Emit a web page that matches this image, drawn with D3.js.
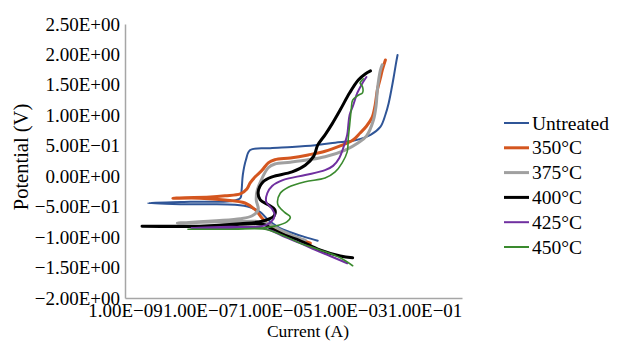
<!DOCTYPE html>
<html>
<head>
<meta charset="utf-8">
<script src="https://cdn.jsdelivr.net/npm/d3@7"></script>
<style>
  html, body { margin: 0; padding: 0; background: #fff; }
  svg text { font-family: "Liberation Serif", "Times New Roman", serif; fill: #000; }
</style>
</head>
<body>
<div id="chart"></div>
<script>
// tick values
const yTicks = [2.5, 2, 1.5, 1, 0.5, 0, -0.5, -1, -1.5, -2];
const xTicks = [1e-9, 1e-7, 1e-5, 1e-3, 1e-1];

// series: current (A) and potential (V), cathodic end -> Ecorr -> anodic end
const untreatedI = [1.4e-4, 6.5e-5, 2.6e-5, 1.2e-5, 6.7e-6, 4.1e-6, 2.2e-6, 8.7e-7, 1.9e-7, 3.0e-8, 4.1e-9, 5.5e-8, 6.4e-7, 1.2e-6, 1.3e-6, 1.4e-6, 1.7e-6, 2.2e-6, 7.5e-6, 2.9e-5, 1.2e-4, 4.1e-4, 1.4e-3, 3.6e-3, 6.6e-3, 9.0e-3, 1.1e-2, 1.3e-2, 1.5e-2, 1.7e-2, 1.9e-2];
const untreatedV = [-1.06, -1.00, -0.92, -0.83, -0.72, -0.59, -0.51, -0.47, -0.46, -0.46, -0.44, -0.42, -0.41, -0.36, -0.23, 0.02, 0.27, 0.43, 0.46, 0.48, 0.51, 0.55, 0.59, 0.68, 0.81, 1.01, 1.20, 1.42, 1.63, 1.83, 1.99];

const t350I = [8.9e-5, 3.5e-5, 1.4e-5, 7.5e-6, 4.6e-6, 3.0e-6, 1.6e-6, 4.7e-7, 1.0e-7, 1.9e-8, 1.9e-7, 4.7e-7, 1.2e-6, 1.8e-6, 2.2e-6, 3.0e-6, 4.6e-6, 6.7e-6, 1.0e-5, 2.6e-5, 7.8e-5, 2.2e-4, 5.6e-4, 1.2e-3, 1.9e-3, 2.8e-3, 4.0e-3, 4.8e-3, 5.5e-3, 6.6e-3, 7.4e-3, 9.0e-3];
const t350V = [-1.10, -1.01, -0.93, -0.82, -0.69, -0.55, -0.44, -0.39, -0.36, -0.36, -0.34, -0.32, -0.29, -0.21, -0.11, -0.01, 0.10, 0.22, 0.27, 0.30, 0.35, 0.41, 0.50, 0.59, 0.71, 0.82, 0.97, 1.17, 1.42, 1.61, 1.74, 1.91];

const t375I = [6.5e-5, 2.9e-5, 1.4e-5, 6.7e-6, 3.0e-6, 8.7e-7, 1.9e-7, 2.5e-8, 1.2e-6, 2.5e-6, 3.6e-6, 3.2e-6, 3.4e-6, 4.6e-6, 6.7e-6, 1.0e-5, 2.6e-5, 7.8e-5, 2.2e-4, 7.6e-4, 1.7e-3, 2.8e-3, 4.3e-3, 5.1e-3, 5.5e-3, 6.6e-3, 7.4e-3];
const t375V = [-1.05, -0.97, -0.88, -0.78, -0.74, -0.75, -0.75, -0.77, -0.70, -0.65, -0.55, -0.39, -0.23, -0.03, 0.14, 0.20, 0.23, 0.27, 0.32, 0.43, 0.55, 0.66, 0.92, 1.17, 1.42, 1.74, 1.83];

const t400I = [1.2e-3, 5.6e-4, 1.6e-4, 4.8e-5, 1.9e-5, 8.5e-6, 5.5e-6, 3.0e-6, 6.4e-7, 1.0e-7, 2.85e-9, 1.0e-7, 1.2e-6, 4.6e-6, 9.6e-6, 1.0e-5, 6.7e-6, 4.1e-6, 3.6e-6, 4.9e-6, 8.5e-6, 2.9e-5, 6.5e-5, 1.1e-4, 1.4e-4, 2.2e-4, 3.4e-4, 5.6e-4, 1.0e-3, 1.7e-3, 2.6e-3, 3.6e-3];
const t400V = [-1.34, -1.31, -1.21, -1.06, -0.97, -0.87, -0.80, -0.78, -0.80, -0.82, -0.82, -0.82, -0.78, -0.74, -0.65, -0.55, -0.47, -0.39, -0.26, -0.09, -0.01, 0.07, 0.18, 0.33, 0.51, 0.68, 0.86, 1.09, 1.37, 1.58, 1.68, 1.73];

const t425I = [8.6e-4, 3.0e-4, 1.2e-4, 4.8e-5, 1.9e-5, 8.5e-6, 4.6e-6, 6.4e-7, 5.5e-8, 6.4e-7, 4.6e-6, 8.0e-6, 1.0e-5, 8.5e-6, 5.9e-6, 6.3e-6, 8.5e-6, 1.7e-5, 6.5e-5, 2.2e-4, 3.6e-4, 5.3e-4, 6.7e-4, 8.6e-4, 9.2e-4, 1.0e-3, 1.25e-3, 1.6e-3, 2.2e-3, 2.8e-3];
const t425V = [-1.43, -1.31, -1.21, -1.10, -1.00, -0.90, -0.85, -0.85, -0.85, -0.83, -0.82, -0.75, -0.64, -0.54, -0.42, -0.28, -0.16, -0.06, 0.02, 0.10, 0.17, 0.30, 0.46, 0.68, 0.84, 1.01, 1.17, 1.37, 1.53, 1.63];

const t450I = [1.2e-3, 5.6e-4, 1.6e-4, 4.8e-5, 2.1e-5, 1.0e-5, 5.5e-6, 6.4e-7, 4.8e-8, 6.4e-7, 4.6e-6, 1.0e-5, 2.1e-5, 2.6e-5, 1.8e-5, 1.2e-5, 1.4e-5, 2.3e-5, 6.5e-5, 2.2e-4, 4.1e-4, 6.3e-4, 8.6e-4, 9.2e-4, 1.0e-3, 1.1e-3, 1.2e-3, 1.7e-3, 2.2e-3, 2.2e-3, 1.9e-3, 2.3e-3];
const t450V = [-1.47, -1.34, -1.21, -1.10, -1.00, -0.92, -0.87, -0.87, -0.87, -0.87, -0.85, -0.82, -0.75, -0.67, -0.59, -0.46, -0.28, -0.18, -0.09, -0.03, 0.07, 0.22, 0.40, 0.63, 0.84, 1.09, 1.25, 1.33, 1.37, 1.47, 1.53, 1.60];

const series = [
  { name: 'Untreated', I: untreatedI, V: untreatedV, color: '#2f5597', w: 2 },
  { name: '350°C', I: t350I, V: t350V, color: '#d4561f', w: 3 },
  { name: '375°C', I: t375I, V: t375V, color: '#a0a0a0', w: 3 },
  { name: '400°C', I: t400I, V: t400V, color: '#000000', w: 3 },
  { name: '425°C', I: t425I, V: t425V, color: '#7030a0', w: 2 },
  { name: '450°C', I: t450I, V: t450V, color: '#3a8a2e', w: 1.6 }
];

const width = 626, height = 349;
const plot = { left: 125, right: 462, top: 24, bottom: 298 };
const tickFont = '19px';

const svg = d3.select('#chart').append('svg')
  .attr('width', width)
  .attr('height', height);

const x = d3.scaleLog().domain([1e-9, 1]).range([plot.left, plot.right]);
const y = d3.scaleLinear().domain([-2, 2.5]).range([plot.bottom, plot.top]);

// Excel-style scientific labels, e.g. 5.00E-01 with a real minus sign
function sci(v) {
  const [m, e] = v.toExponential(2).split('e');
  const n = +e;
  const s = m + 'E' + (n < 0 ? '-' : '+') + String(Math.abs(n)).padStart(2, '0');
  return s.replace(/-/g, '\u2212');
}

// Y axis
const yAxis = svg.append('g')
  .attr('transform', `translate(${plot.left},0)`)
  .call(d3.axisLeft(y).tickValues(yTicks).tickSize(0).tickPadding(5).tickFormat(sci));
yAxis.select('.domain').attr('stroke', '#a6a6a6').attr('stroke-width', 1.5);
yAxis.selectAll('text').attr('font-size', tickFont).attr('font-family', 'Liberation Serif').attr('fill', '#000');

// X axis
const xAxis = svg.append('g')
  .attr('transform', `translate(0,${plot.bottom})`)
  .call(d3.axisBottom(x).tickValues(xTicks).tickSize(0).tickPadding(6).tickFormat(sci));
xAxis.select('.domain').attr('stroke', '#a6a6a6').attr('stroke-width', 1.5);
xAxis.selectAll('text').attr('font-size', tickFont).attr('font-family', 'Liberation Serif').attr('fill', '#000');

// axis titles
svg.append('text')
  .attr('transform', 'translate(28,157) rotate(-90)')
  .attr('text-anchor', 'middle')
  .attr('font-size', '20.5px')
  .text('Potential (V)');

svg.append('text')
  .attr('x', 308)
  .attr('y', 337)
  .attr('text-anchor', 'middle')
  .attr('font-size', '17.5px')
  .text('Current (A)');

// lines
const line = d3.line()
  .x(d => x(d[0]))
  .y(d => y(d[1]))
  .curve(d3.curveCatmullRom.alpha(0.5));

series.forEach(s => {
  const pts = s.I.map((v, i) => [v, s.V[i]]);
  svg.append('path')
    .datum(pts)
    .attr('fill', 'none')
    .attr('stroke', s.color)
    .attr('stroke-width', s.w)
    .attr('stroke-linejoin', 'round')
    .attr('stroke-linecap', 'round')
    .attr('d', line);
});

// legend
const legend = svg.append('g').attr('transform', 'translate(504,123)');
series.forEach((s, i) => {
  const g = legend.append('g').attr('transform', `translate(0,${i * 24.8})`);
  g.append('line')
    .attr('x1', 0).attr('x2', 25)
    .attr('y1', 0).attr('y2', 0)
    .attr('stroke', s.color)
    .attr('stroke-width', Math.max(2, s.w));
  g.append('text')
    .attr('x', 28)
    .attr('y', 6.5)
    .attr('font-size', '19.5px')
    .text(s.name);
});
</script>
</body>
</html>
